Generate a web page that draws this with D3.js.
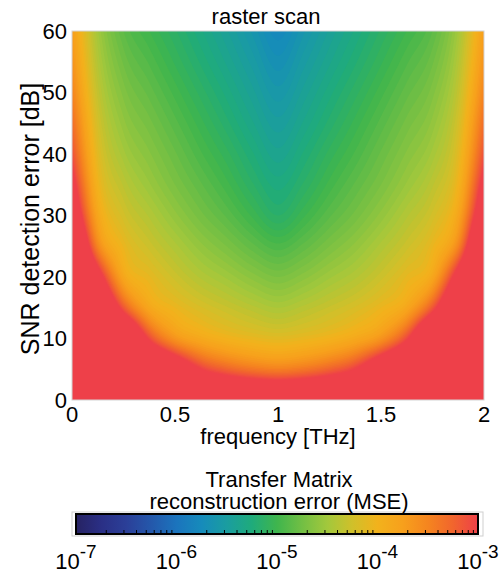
<!DOCTYPE html>
<html>
<head>
<meta charset="utf-8">
<script src="https://cdn.jsdelivr.net/npm/d3@7"></script>
<style>
  body { margin: 0; background: #fff; }
  text { font-family: Arial, "Liberation Sans", Helvetica, sans-serif; fill: #000; }
</style>
</head>
<body>
<svg id="chart" width="499" height="575"></svg>
<script>
// Grid of the reconstruction error, log10(MSE), sampled on frequency x SNR
const frequencies = [0, 0.125, 0.25, 0.375, 0.5, 0.625, 0.75, 0.875, 1, 1.125, 1.25, 1.375, 1.5, 1.625, 1.75, 1.875, 2];
const snrLevels = [0, 5, 10, 15, 20, 25, 30, 35, 40, 45, 50, 55, 60];
const logMSE = [
  [ 0.90,-0.10,-0.77,-1.23,-1.55,-1.75,-1.85,-1.95,-2.00,-1.95,-1.85,-1.75,-1.55,-1.23,-0.77,-0.10, 0.90],
  [ 0.50,-0.60,-1.28,-1.80,-2.41,-2.98,-3.23,-3.38,-3.45,-3.38,-3.23,-2.98,-2.41,-1.80,-1.28,-0.60, 0.50],
  [ 0.10,-1.10,-1.88,-3.05,-3.63,-3.86,-3.99,-4.07,-4.12,-4.07,-3.99,-3.86,-3.63,-3.05,-1.88,-1.10, 0.10],
  [-0.40,-1.85,-3.15,-3.83,-4.05,-4.19,-4.29,-4.38,-4.45,-4.38,-4.29,-4.19,-4.05,-3.83,-3.15,-1.85,-0.40],
  [-1.00,-2.70,-3.83,-4.09,-4.27,-4.41,-4.51,-4.62,-4.70,-4.62,-4.51,-4.41,-4.27,-4.09,-3.83,-2.70,-1.00],
  [-1.70,-3.50,-4.06,-4.27,-4.43,-4.58,-4.70,-4.83,-4.93,-4.83,-4.70,-4.58,-4.43,-4.27,-4.06,-3.50,-1.70],
  [-2.43,-3.82,-4.23,-4.41,-4.58,-4.73,-4.86,-5.01,-5.15,-5.01,-4.86,-4.73,-4.58,-4.41,-4.23,-3.82,-2.43],
  [-2.81,-4.00,-4.36,-4.54,-4.70,-4.84,-4.98,-5.14,-5.27,-5.14,-4.98,-4.84,-4.70,-4.54,-4.36,-4.00,-2.81],
  [-3.10,-4.12,-4.48,-4.64,-4.79,-4.94,-5.08,-5.24,-5.38,-5.24,-5.08,-4.94,-4.79,-4.64,-4.48,-4.12,-3.10],
  [-3.30,-4.22,-4.58,-4.73,-4.88,-5.03,-5.18,-5.34,-5.48,-5.34,-5.18,-5.03,-4.88,-4.73,-4.58,-4.22,-3.30],
  [-3.48,-4.32,-4.67,-4.82,-4.97,-5.12,-5.27,-5.43,-5.58,-5.43,-5.27,-5.12,-4.97,-4.82,-4.67,-4.32,-3.48],
  [-3.62,-4.41,-4.76,-4.91,-5.06,-5.21,-5.36,-5.52,-5.68,-5.52,-5.36,-5.21,-5.06,-4.91,-4.76,-4.41,-3.62],
  [-3.73,-4.49,-4.85,-5.00,-5.14,-5.29,-5.44,-5.61,-5.78,-5.61,-5.44,-5.29,-5.14,-5.00,-4.85,-4.49,-3.73]
];

const xTicks = [0, 0.5, 1, 1.5, 2];
const xTickLabels = ["0", "0.5", "1", "1.5", "2"];
const yTicks = [0, 10, 20, 30, 40, 50, 60];
const cbarExponents = [-7, -6, -5, -4, -3];

// colormap: log10(MSE) -> colour
const colorLevels = [-7, -6.75, -6.5, -6.25, -6, -5.75, -5.5, -5.25, -5, -4.75, -4.5, -4.25, -4, -3.75, -3.5, -3.25, -3];
const colorHex = ["#262262", "#2a2f85", "#2b3f98", "#2458ab", "#1b74bd", "#168bbb", "#1a9da0", "#1fab7b",
                  "#3fb54d", "#72bf44", "#a2c83c", "#d0c02a", "#f2b21c", "#f7a01c", "#f5851f", "#f1652d", "#ee4049"];

const svg = d3.select("#chart");
const plot = { left: 72, top: 31, right: 484, bottom: 400 };

const x = d3.scaleLinear().domain([0, 2]).range([plot.left, plot.right]);
const y = d3.scaleLinear().domain([0, 60]).range([plot.bottom, plot.top]);
const color = d3.scaleLinear().domain(colorLevels).range(colorHex).clamp(true);

// smooth (Catmull-Rom) sampling of the data grid
const nf = frequencies.length, ns = snrLevels.length;
const df = frequencies[1] - frequencies[0], ds = snrLevels[1] - snrLevels[0];
function node(i, j) {
  // linear extension beyond the grid edge
  if (i < 0) return 2 * node(0, j) - node(1, j);
  if (i > nf - 1) return 2 * node(nf - 1, j) - node(nf - 2, j);
  if (j < 0) return 2 * node(i, 0) - node(i, 1);
  if (j > ns - 1) return 2 * node(i, ns - 1) - node(i, ns - 2);
  return logMSE[j][i];
}
function cubic(p0, p1, p2, p3, t) {
  return p1 + 0.5 * t * (p2 - p0 + t * (2 * p0 - 5 * p1 + 4 * p2 - p3 + t * (3 * (p1 - p2) + p3 - p0)));
}
function sample(f, s) {
  const u = (f - frequencies[0]) / df, v = (s - snrLevels[0]) / ds;
  let i = Math.min(nf - 2, Math.max(0, Math.floor(u)));
  let j = Math.min(ns - 2, Math.max(0, Math.floor(v)));
  const tu = u - i, tv = v - j;
  const col = [];
  for (let dj = -1; dj <= 2; dj++) {
    col.push(cubic(node(i - 1, j + dj), node(i, j + dj), node(i + 1, j + dj), node(i + 2, j + dj), tu));
  }
  return cubic(col[0], col[1], col[2], col[3], tv);
}

// filled contours
const nx = plot.right - plot.left, ny = plot.bottom - plot.top;
const values = new Float64Array(nx * ny);
for (let j = 0; j < ny; j++) {
  const s = y.invert(plot.top + j + 0.5);
  for (let i = 0; i < nx; i++) {
    values[j * nx + i] = sample(x.invert(plot.left + i + 0.5), s);
  }
}
const step = 0.05;
const thresholds = d3.range(-7, -3 + 1e-9, step).map(t => Math.round(t * 100) / 100);
const contours = d3.contours().size([nx, ny]).thresholds(thresholds)(values);

svg.append("clipPath").attr("id", "plot-clip")
  .append("rect").attr("x", plot.left).attr("y", plot.top).attr("width", nx).attr("height", ny);

const field = svg.append("g").attr("clip-path", "url(#plot-clip)");
field.append("rect").attr("x", plot.left).attr("y", plot.top).attr("width", nx).attr("height", ny)
  .attr("fill", color(-7));
field.append("g")
  .attr("transform", `translate(${plot.left},${plot.top})`)
  .selectAll("path").data(contours).join("path")
  .attr("d", d3.geoPath())
  .attr("fill", d => color(d.value >= -3 ? -3 : d.value + step / 2));

// axes frame
svg.append("rect").attr("x", plot.left).attr("y", plot.top).attr("width", nx).attr("height", ny)
  .attr("fill", "none").attr("stroke", "#d4d4d4").attr("stroke-width", 1);

// tick labels
svg.append("g").selectAll("text").data(yTicks).join("text")
  .attr("x", 67).attr("y", d => y(d)).attr("dy", "0.36em")
  .attr("text-anchor", "end").attr("font-size", 22).text(d => d);
svg.append("g").selectAll("text").data(xTicks).join("text")
  .attr("x", d => x(d)).attr("y", 422)
  .attr("text-anchor", "middle").attr("font-size", 22).text((d, i) => xTickLabels[i]);

// titles
svg.append("text").attr("x", 266).attr("y", 24).attr("text-anchor", "middle")
  .attr("font-size", 22).text("raster scan");
svg.append("text").attr("x", 278).attr("y", 444).attr("text-anchor", "middle")
  .attr("font-size", 22).text("frequency [THz]");
svg.append("text").attr("transform", "translate(39,219) rotate(-90)").attr("text-anchor", "middle")
  .attr("font-size", 25).text("SNR detection error [dB]");

// colour bar
const cb = { left: 76, right: 478, top: 514, bottom: 534 };
const cbx = d3.scaleLinear().domain([-7, -3]).range([cb.left, cb.right]);
const grad = svg.append("defs").append("linearGradient").attr("id", "cbar-grad")
  .attr("x1", "0%").attr("x2", "100%").attr("y1", "0%").attr("y2", "0%");
grad.selectAll("stop").data(colorLevels).join("stop")
  .attr("offset", d => ((d + 7) / 4 * 100) + "%")
  .attr("stop-color", d => color(d));

svg.append("rect").attr("x", 72).attr("y", 512).attr("width", 411).attr("height", 24)
  .attr("fill", "#fff").attr("stroke", "#cfcfcf").attr("stroke-width", 1);
svg.append("rect").attr("x", cb.left).attr("y", cb.top).attr("width", cb.right - cb.left)
  .attr("height", cb.bottom - cb.top).attr("fill", "url(#cbar-grad)");

const minorTicks = [];
for (let e = -7; e < -3; e++) for (let k = 2; k <= 9; k++) minorTicks.push(e + Math.log10(k));
svg.append("g").selectAll("line").data(minorTicks).join("line")
  .attr("x1", d => cbx(d)).attr("x2", d => cbx(d))
  .attr("y1", cb.bottom).attr("y2", cb.bottom - 4)
  .attr("stroke", "#000").attr("stroke-width", 1);
svg.append("rect").attr("x", cb.left).attr("y", cb.top).attr("width", cb.right - cb.left)
  .attr("height", cb.bottom - cb.top).attr("fill", "none").attr("stroke", "#000").attr("stroke-width", 2);

const cbLabels = svg.append("g").selectAll("text").data(cbarExponents).join("text")
  .attr("x", d => cbx(d)).attr("y", 569).attr("text-anchor", "middle").attr("font-size", 22);
cbLabels.append("tspan").text("10");
cbLabels.append("tspan").attr("dy", -11).attr("font-size", 19).text(d => "-" + Math.abs(d));

svg.append("text").attr("x", 279).attr("y", 487).attr("text-anchor", "middle")
  .attr("font-size", 22).text("Transfer Matrix");
svg.append("text").attr("x", 279).attr("y", 509).attr("text-anchor", "middle")
  .attr("font-size", 22).text("reconstruction error (MSE)");
</script>
</body>
</html>
